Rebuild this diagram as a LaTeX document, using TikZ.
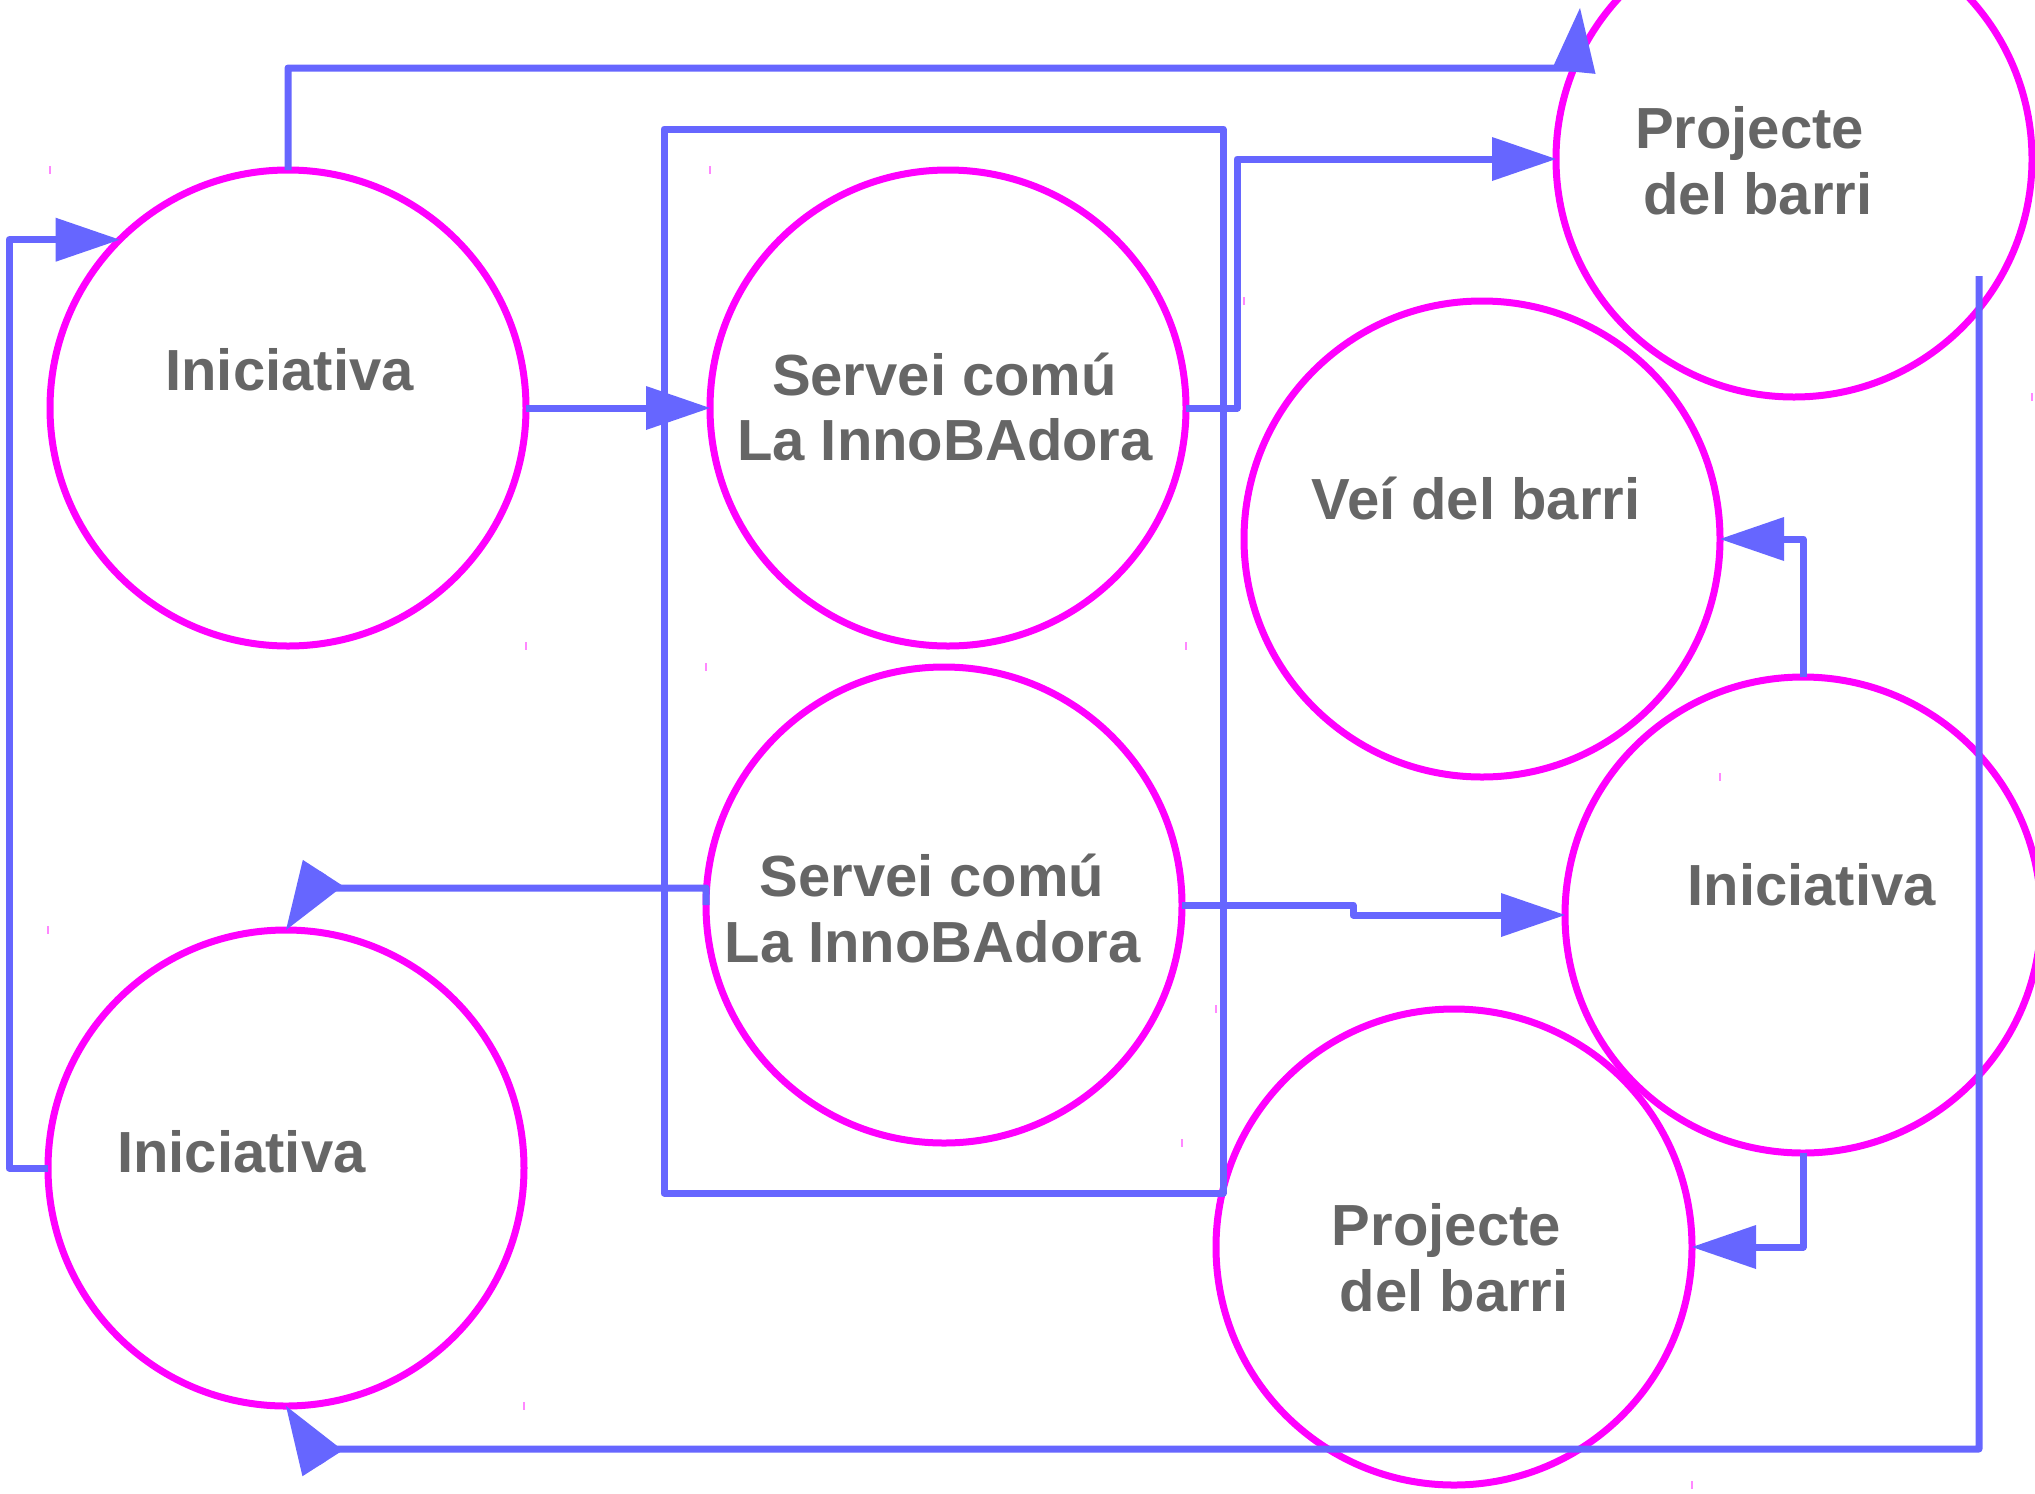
\documentclass[tikz,border=0pt]{standalone}
\usepackage{fontspec}
\setmainfont{Liberation Sans}
\usetikzlibrary{arrows.meta}
\definecolor{mag}{HTML}{FF00FF}
\definecolor{lnk}{HTML}{6666FF}
\definecolor{txt}{HTML}{666666}
\definecolor{tickc}{HTML}{FF88FF}
\begin{document}
\begin{tikzpicture}[x=0.5pt,y=-0.5pt,
  bub/.style={circle,draw=mag,line width=3.5pt,minimum size=238pt,inner sep=0pt,outer sep=0pt},
  lbl/.style={anchor=base,text=txt,font=\fontsize{29}{32.5}\selectfont\bfseries,inner sep=0pt},
  conn/.style={draw=lnk,line width=3.5pt,line join=round},
  arr/.style={conn,-{Triangle[length=32pt,width=22pt,line width=0pt]}},
  darr/.style={conn,-{Triangle[length=34pt,width=24pt,line width=0pt]}},
  tickmark/.style={draw=tickc,line width=0.8pt}]
\useasboundingbox (0,0) rectangle (2035,1494);

% circles
\node[bub] (c1) at (288,408) {};
\node[bub] (c2) at (948,408) {};
\node[bub] (c3) at (944,905) {};
\node[bub] (c4) at (286,1168) {};
\node[bub] (c5) at (1794,159) {};
\node[bub] (c6) at (1482,539) {};
\node[bub] (c7) at (1803,915) {};
\node[bub] (c8) at (1454,1247) {};

% frame
\node[draw=lnk,line width=3.5pt,line join=round,minimum width=279.5pt,minimum height=532pt,inner sep=0pt,outer sep=0pt] (frame) at (943.5,661) {};

% tiny marks
\foreach \n in {c1,c2,c3,c4,c6,c8} {
  \draw[tickmark] (\n.west |- \n.north) ++(0,-4) -- ++(0,8);
}
\foreach \n in {c1,c2,c3,c4,c5,c6,c8} {
  \draw[tickmark] (\n.east |- \n.south) ++(0,-4) -- ++(0,8);
}

% free ends
\coordinate (a1) at (1580,8);
\coordinate (s) at (1979,276);

% connectors
\draw[arr] (c1.north) |- (1574,68) -- (a1);
\draw[arr] (c4.west) -- ++(-39,0) |- (c1.135);
\draw[arr] (c1.east) -- (c2.west);
\draw[arr] (c2.east) -- (1237,408) |- (c5.west);
\draw[darr] (c3.west) |- (330,888) -- (320.8,876.3) -- (c4.north);
\draw[arr] (c3.east) -| (1353,915) -- (c7.west);
\draw[arr] (c7.north) |- (c6.east);
\draw[arr] (c7.south) |- (c8.east);
\draw[darr] (s) |- (330,1449) -- (320.5,1459.9) -- (c4.south);

% labels
\node[lbl] (t1) at (289.5,390) {Iniciativa};
\node[lbl] (t2a) at (944.5,395) {Servei comú};
\node[lbl] (t2b) at (945,460) {La InnoBAdora};
\node[lbl] (t3a) at (932,896) {Servei comú};
\node[lbl] (t3b) at (932.5,962) {La InnoBAdora};
\node[lbl] (t4) at (241.4,1172.5) {Iniciativa};
\node[lbl] (t7) at (1811.7,905) {Iniciativa};
\node[lbl] (t5a) at (1749.5,148.5) {Projecte};
\node[lbl] (t5b) at (1757.9,214.7) {del barri};
\node[lbl] (t6) at (1476,519.6) {Veí del barri};
\node[lbl] (t8a) at (1446.4,1245) {Projecte};
\node[lbl] (t8b) at (1454.2,1311.3) {del barri};
\end{tikzpicture}
\end{document}
